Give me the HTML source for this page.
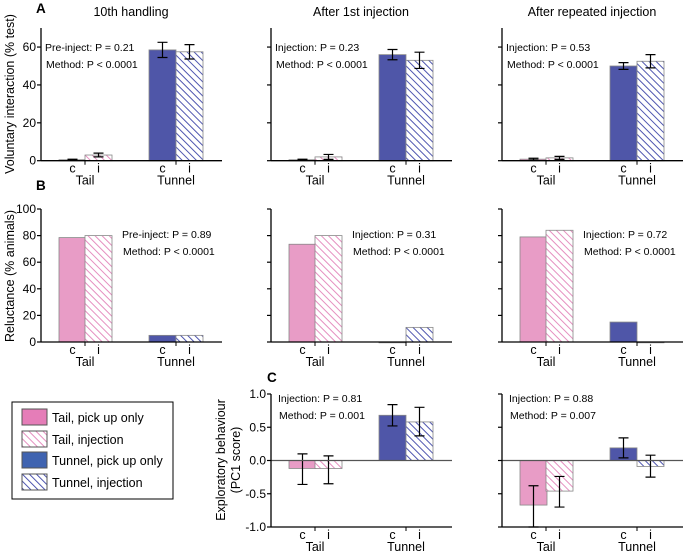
<!DOCTYPE html>
<html><head><meta charset="utf-8"><style>
body{margin:0;background:#fff}
svg{display:block;font-family:"Liberation Sans",Arial,sans-serif}
</style></head><body>
<svg id="fig" width="685" height="552" viewBox="0 0 685 552">
<defs>
<pattern id="hp" width="5" height="5" patternUnits="userSpaceOnUse" patternTransform="rotate(-45)"><rect width="5" height="5" fill="#fff"/><line x1="0" y1="0" x2="0" y2="5" stroke="#e58fc0" stroke-width="2"/></pattern>
<pattern id="hb" width="5" height="5" patternUnits="userSpaceOnUse" patternTransform="rotate(-45)"><rect width="5" height="5" fill="#fff"/><line x1="0" y1="0" x2="0" y2="5" stroke="#4f56b0" stroke-width="2"/></pattern>
</defs>
<g id="legend">
<rect x="12" y="402" width="161" height="97" fill="#fff" stroke="#000" stroke-width="1"/>
<g><rect x="22" y="409" width="25" height="16" fill="#e57db8" stroke="#555"/><text x="52" y="422" font-size="12.5">Tail, pick up only</text></g>
<g><rect x="22" y="431" width="25" height="16" fill="url(#hp)" stroke="#555"/><text x="52" y="444" font-size="12.5">Tail, injection</text></g>
<g><rect x="22" y="452" width="25" height="16" fill="#3f63b0" stroke="#555"/><text x="52" y="465" font-size="12.5">Tunnel, pick up only</text></g>
<g><rect x="22" y="474" width="25" height="16" fill="url(#hb)" stroke="#555"/><text x="52" y="487" font-size="12.5">Tunnel, injection</text></g>
</g>
</svg>
<script>
// Panel A: voluntary interaction (% test) - order: tail c, tail i, tunnel c, tunnel i
const aTitles = ["10th handling","After 1st injection","After repeated injection"];
const aValues = [[0.5,3,58.5,57.5],[0.5,2,56,53],[0.8,1.5,50,52.5]];
const aErrors = [[0.3,1,4,3.8],[0.3,1.3,2.7,4.3],[0.5,0.8,1.8,3.5]];
const aNotes = [["Pre-inject: P = 0.21","Method: P < 0.0001"],["Injection: P = 0.23","Method: P < 0.0001"],["Injection: P = 0.53","Method: P < 0.0001"]];
const aTicks = [0,20,40,60];
// Panel B: reluctance (% animals)
const bValues = [[78.5,80,5,5],[73.5,80,0,11],[79,84,15,0]];
const bNotes = [["Pre-inject: P = 0.89","Method: P < 0.0001"],["Injection: P = 0.31","Method: P < 0.0001"],["Injection: P = 0.72","Method: P < 0.0001"]];
const bTicks = [0,20,40,60,80,100];
// Panel C: exploratory behaviour (PC1 score) - columns 2 and 3
const cValues = [[-0.12,-0.12,0.68,0.58],[-0.67,-0.46,0.19,-0.09]];
const cErrLow = [[-0.36,-0.35,0.52,0.37],[-1.0,-0.70,0.04,-0.25]];
const cErrHigh = [[0.10,0.07,0.84,0.80],[-0.38,-0.24,0.34,0.08]];
const cNotes = [["Injection: P = 0.81","Method: P = 0.001"],["Injection: P = 0.88","Method: P = 0.007"]];
const cTicks = [1.0,0.5,0.0,-0.5,-1.0];
const cTickLabels = ["1.0","0.5","0.0","-0.5","-1.0"];

const svg = document.getElementById('fig');
const NS = 'http://www.w3.org/2000/svg';
const colX = [41,271,502];
const barOff = [18,44,108,135];
const barW = 27;
const fills = ["#e89cc6","url(#hp)","#4f56a8","url(#hb)"];
const barNames = ["tail-c","tail-i","tunnel-c","tunnel-i"];
function mk(tag, attrs, parent){const e=document.createElementNS(NS,tag);for(const k in attrs)e.setAttribute(k,attrs[k]);(parent||svg).appendChild(e);return e;}
function txt(x,y,s,size,anchor,parent,extra){const t=mk('text',Object.assign({x:x,y:y,'font-size':size,'text-anchor':anchor||'start'},extra||{}),parent);t.textContent=s;return t;}

function panel(o){
  const g=mk('g',{});
  
  
  const ax=o.x;
  const y=v=>o.y0-(v-o.vmin)*o.scale;
  // bars
  o.values.forEach((v,i)=>{
    const base=y(o.base), top=y(v);
    const r=mk('rect',{x:ax+barOff[i],y:Math.min(base,top),width:barW,height:Math.max(Math.abs(base-top),0.8),fill:fills[i],stroke:'#888','stroke-width':0.8},g);
    
    
    if(o.lo){
      const cx=ax+barOff[i]+barW/2, a=y(o.lo[i]), b=y(o.hi[i]);
      const eb=mk('path',{d:`M${cx},${a}V${b}M${cx-5},${a}H${cx+5}M${cx-5},${b}H${cx+5}`,stroke:'#000','stroke-width':1.2,fill:'none'},g);
      
      
    }
  });
  if(o.zeroLine){const z=mk('line',{x1:ax,x2:ax+181,y1:y(0),y2:y(0),stroke:'#555','stroke-width':1.2},g);
    }
  // axes
  const yax=mk('line',{x1:ax,x2:ax,y1:o.ytop,y2:o.y0,stroke:'#000','stroke-width':1.3},g);
  
  const xax=mk('line',{x1:ax,x2:ax+181,y1:o.y0,y2:o.y0,stroke:'#000','stroke-width':1.3},g);
  
  o.ticks.forEach((t,i)=>{
    mk('line',{x1:ax-4,x2:ax,y1:y(t),y2:y(t),stroke:'#000','stroke-width':1.2},g);
    if(o.labels){const l=txt(ax-5,y(t)+4,o.labels[i],12,'end',g);
      }
  });
  [44,135].forEach(off=>mk('line',{x1:ax+off,x2:ax+off,y1:o.y0,y2:o.y0+4,stroke:'#000','stroke-width':1},g));
  barOff.forEach((off,i)=>{const l=txt(ax+off+barW/2,o.y0+12,i%2?'i':'c',12.5,'middle',g);
    });
  const t1=txt(ax+44,o.y0+24,'Tail',12.5,'middle',g);
  const t2=txt(ax+135,o.y0+24,'Tunnel',12.5,'middle',g);
  o.notes.forEach((s,i)=>{const n=txt(o.nx+(i?1:0),o.ny+i*17,s,10.5,'start',g);
    });
  if(o.title){const tt=txt(ax+90,16,o.title,12.5,'middle',g);}
}
for(let c=0;c<3;c++){
  panel({name:'panel-a-col'+(c+1),x:colX[c],y0:160.7,vmin:0,base:0,scale:1.894,ytop:28,values:aValues[c],
    lo:aValues[c].map((v,i)=>v-aErrors[c][i]),hi:aValues[c].map((v,i)=>v+aErrors[c][i]),
    ticks:aTicks,labels:c===0?aTicks.map(String):null,notes:aNotes[c],nx:colX[c]+4,ny:51,title:aTitles[c]});
  panel({name:'panel-b-col'+(c+1),x:colX[c],y0:342,vmin:0,base:0,scale:1.33,ytop:209,values:bValues[c],
    ticks:bTicks,labels:c===0?bTicks.map(String):null,notes:bNotes[c],nx:colX[c]+81,ny:238});
}
for(let c=0;c<2;c++){
  panel({name:'panel-c-col'+(c+2),x:colX[c+1],y0:527,vmin:-1,base:0,scale:66.5,ytop:394,values:cValues[c],
    lo:cErrLow[c],hi:cErrHigh[c],zeroLine:true,
    ticks:cTicks,labels:c===0?cTickLabels:null,notes:cNotes[c],nx:colX[c+1]+7,ny:402});
}
// panel letters & axis titles
[['A',36,13],['B',36,190],['C',267,382]].forEach(([s,x,yy])=>{const l=txt(x,yy,s,13.5,'start',svg,{'font-weight':'bold'});
  });
const ya=txt(0,0,'Voluntary interaction (% test)',12.5,'middle',svg,{transform:'translate(14,94) rotate(-90)'});

const yb=txt(0,0,'Reluctance (% animals)',12.5,'middle',svg,{transform:'translate(14,276) rotate(-90)'});

const yc1=txt(0,0,'Exploratory behaviour',12.5,'middle',svg,{transform:'translate(225,460) rotate(-90)'});

const yc2=txt(0,0,'(PC1 score)',12.5,'middle',svg,{transform:'translate(240,460) rotate(-90)'});

</script>
</body></html>
